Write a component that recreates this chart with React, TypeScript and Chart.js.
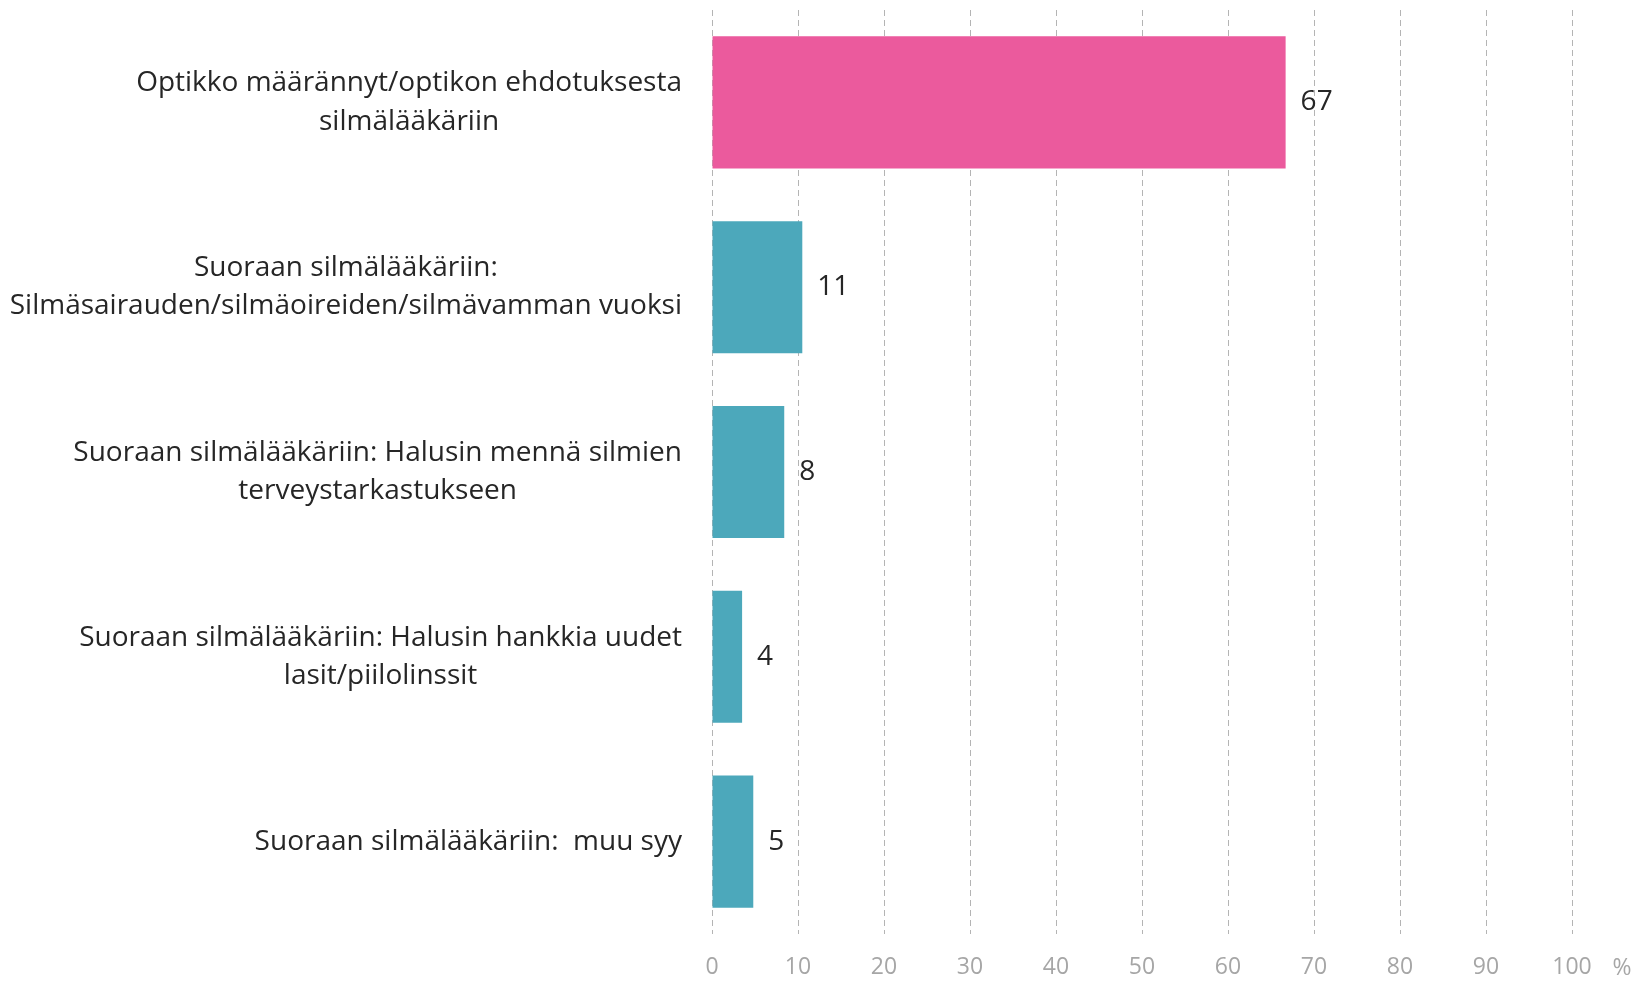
import React, { useEffect, useRef } from "react";
import { Chart, registerables } from "chart.js";

Chart.register(...registerables);

const categoryLines: string[][] = [
  ["Optikko määrännyt/optikon ehdotuksesta", "silmälääkäriin"],
  ["Suoraan silmälääkäriin:", "Silmäsairauden/silmäoireiden/silmävamman vuoksi"],
  ["Suoraan silmälääkäriin: Halusin mennä silmien", "terveystarkastukseen"],
  ["Suoraan silmälääkäriin: Halusin hankkia uudet", "lasit/piilolinssit"],
  ["Suoraan silmälääkäriin:  muu syy"],
];
const values = [66.7, 10.5, 8.4, 3.5, 4.8];
const barColors = ["#EB5A9D", "#4CA8BB", "#4CA8BB", "#4CA8BB", "#4CA8BB"];
const xMin = 0;
const xMax = 100;
const xStep = 10;
const unitLabel = "%";

const FONT = "'Open Sans', sans-serif";
const TEXT_COLOR = "#262626";
const TICK_COLOR = "#A6A6A6";

const labelsPlugin = {
  id: "customLabels",
  afterDraw(chart: any) {
    const ctx = chart.ctx;
    const yScale = chart.scales.y;
    const xScale = chart.scales.x;
    const meta = chart.getDatasetMeta(0);
    ctx.save();
    // category labels: block right aligned, lines centered
    ctx.font = `28px ${FONT}`;
    ctx.fillStyle = TEXT_COLOR;
    ctx.textBaseline = "middle";
    ctx.textAlign = "center";
    const right = xScale.left - 30;
    const lh = 38.5;
    categoryLines.forEach((lines, i) => {
      const yc = yScale.getPixelForValue(i);
      const w = Math.max(...lines.map((l) => ctx.measureText(l).width));
      const cx = right - w / 2;
      const y0 = yc - ((lines.length - 1) * lh) / 2;
      lines.forEach((l, j) => ctx.fillText(l, cx, y0 + j * lh));
    });
    // value labels
    ctx.font = `28px ${FONT}`;
    ctx.textAlign = "left";
    meta.data.forEach((el: any, i: number) => {
      ctx.fillText(String(Math.round(values[i])), el.x + 15, el.y);
    });
    // unit label
    ctx.font = `23px ${FONT}`;
    ctx.fillStyle = TICK_COLOR;
    ctx.textAlign = "center";
    ctx.fillText(unitLabel, xScale.getPixelForValue(xMax) + 50, 968);
    ctx.restore();
  },
};

export default function App() {
  const ref = useRef<HTMLCanvasElement | null>(null);
  useEffect(() => {
    document.body.style.margin = "0";
    const chart = new Chart(ref.current as HTMLCanvasElement, {
      type: "bar",
      data: {
        labels: categoryLines.map((l) => l.join(" ")),
        datasets: [
          {
            data: values,
            backgroundColor: barColors,
            borderWidth: 0,
            categoryPercentage: 1,
            barPercentage: 0.715,
          },
        ],
      },
      options: {
        indexAxis: "y",
        animation: false,
        responsive: false,
        layout: { padding: { top: 10, right: 62, left: 0, bottom: 0 } },
        plugins: { legend: { display: false }, tooltip: { enabled: false } },
        scales: {
          x: {
            min: xMin,
            max: xMax,
            ticks: {
              stepSize: xStep,
              color: TICK_COLOR,
              font: { family: FONT, size: 23 },
              padding: 20,
            },
            grid: {
              color: "#B4B4B4",
              lineWidth: 1,
              drawTicks: false,
            },
            border: { display: false, dash: [6, 4] },
            afterFit(scale: any) {
              scale.height = 47;
            },
          },
          y: {
            ticks: { display: false },
            grid: { display: false },
            border: { display: false },
            afterFit(scale: any) {
              scale.width = 712;
            },
          },
        },
      },
      plugins: [labelsPlugin],
    } as any);
    return () => chart.destroy();
  }, []);
  return (
    <div style={{ position: "absolute", left: 0, top: 0, width: 1634, height: 981 }}>
      <canvas ref={ref} width={1634} height={981} />
    </div>
  );
}
